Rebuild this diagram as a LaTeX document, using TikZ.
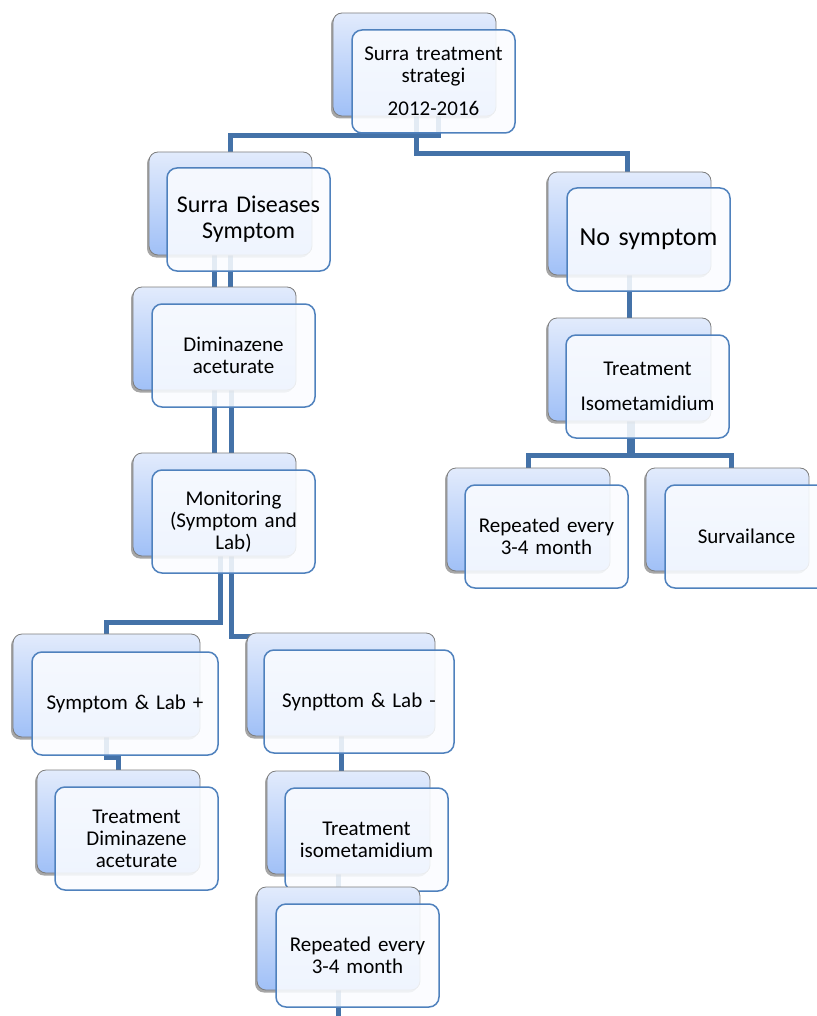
\documentclass[tikz,border=0pt]{standalone}
\usepackage{fontspec}
\setmainfont{Carlito}
\usetikzlibrary{shadows,calc,backgrounds}
\definecolor{conncol}{RGB}{68,114,168}
\definecolor{backtop}{RGB}{226,235,252}
\definecolor{backbot}{RGB}{160,192,247}
\definecolor{backline}{RGB}{125,125,125}
\definecolor{frontline}{RGB}{79,129,189}
\definecolor{frontfill}{RGB}{250,252,255}
\tikzset{
  conn/.style={draw=conncol, line width=5pt},
  backbox/.style={anchor=north west, rounded corners=9pt, draw=backline, line width=0.8pt,
    top color=backtop, bottom color=backbot, minimum height=103pt, inner sep=0pt, outer sep=0pt,
    drop shadow={shadow xshift=-2pt, shadow yshift=-2.5pt, opacity=0.35, fill=black}},
  frontbox/.style={anchor=north west, rounded corners=10pt, draw=frontline, line width=1.5pt,
    fill=frontfill, fill opacity=0.88, text opacity=1, minimum height=103pt, inner sep=0pt,
    outer sep=0pt, align=center, font=\fontsize{21}{22}\selectfont},
}
\begin{document}
\begin{tikzpicture}[x=1pt,y=-1pt]
\useasboundingbox (0,0) rectangle (816,1016);
% root
\node[backbox, minimum width=163pt] (root-b) at (333,13) {};
\node[frontbox, text width=163pt] (root) at (352,30) {Surra treatment\\strategi\\[11pt]2012-2016};
% Surra diseases symptom
\node[backbox, minimum width=163pt] (sds-b) at (149,152) {};
\node[frontbox, text width=163pt, font=\fontsize{24}{26}\selectfont] (sds) at (167,168) {Surra Diseases\\Symptom};
% No symptom
\node[backbox, minimum width=163pt] (nos-b) at (548,172) {};
\node[frontbox, text width=163pt, font=\fontsize{26}{28}\selectfont] (nos) at (567,188) {No symptom};
% Diminazene
\node[backbox, minimum width=163pt] (dim-b) at (133,287) {};
\node[frontbox, text width=163pt] (dim) at (152,304) {Diminazene\\aceturate};
% Treatment Isometamidium
\node[backbox, minimum width=163pt] (tiso-b) at (548,318) {};
\node[frontbox, text width=163pt] (tiso) at (566,335) {Treatment\\[13pt]Isometamidium};
% Monitoring
\node[backbox, minimum width=163pt] (mon-b) at (133,453) {};
\node[frontbox, text width=163pt] (mon) at (152,470) {Monitoring\\(Symptom and\\Lab)};
% Repeated (right)
\node[backbox, minimum width=163pt] (rep1-b) at (447,468) {};
\node[frontbox, text width=163pt] (rep1) at (465,485) {Repeated every\\3-4 month};
% Survailance
\node[backbox, minimum width=163pt] (surv-b) at (646,468) {};
\node[frontbox, text width=163pt] (surv) at (665,485) {Survailance};
% Symptom & Lab +
\node[backbox, minimum width=187pt] (slp-b) at (13,634) {};
\node[frontbox, text width=186pt] (slp) at (32,652) {Symptom \& Lab +};
% Synpttom & Lab -
\node[backbox, minimum width=188pt] (slm-b) at (247,633) {};
\node[frontbox, text width=190pt] (slm) at (264,650) {Synpttom \& Lab -};
% Treatment Diminazene aceturate
\node[backbox, minimum width=163pt] (tdim-b) at (37,770) {};
\node[frontbox, text width=163pt] (tdim) at (55,787) {Treatment\\Diminazene\\aceturate};
% Treatment isometamidium
\node[backbox, minimum width=163pt] (tiso2-b) at (267,771) {};
\node[frontbox, text width=163pt] (tiso2) at (285,788) {Treatment\\isometamidium};
% Repeated (bottom)
\node[backbox, minimum width=163pt] (rep2-b) at (257,887) {};
\node[frontbox, text width=163pt] (rep2) at (276,904) {Repeated every\\3-4 month};
\coordinate (stubend) at (340,1022);
\begin{scope}[on background layer]
\draw[conn] ($(root-b.south)+(23.5,0)$) -- ++(0,20) -| (sds-b.north);
\draw[conn] ($(root-b.south)+(2,0)$) -- ++(0,38) -| ($(nos-b.north)+(-2,0)$);
\draw[conn] (sds-b.south) -- (sds-b.south |- dim-b.north);
\draw[conn] (dim-b.north) -- (dim-b.north |- sds-b.south);
\draw[conn] (dim-b.south) -- (dim-b.south |- mon-b.north);
\draw[conn] ($(dim-b.south)+(16.5,0)$) coordinate (d1) -- (d1 |- mon-b.north);
\draw[conn] ($(mon-b.south)+(5.5,0)$) -- ++(0,66) -| (slp-b.north);
\draw[conn] ($(mon-b.south)+(16.5,0)$) |- ($(slm-b.north)+(0,3)$);
\draw[conn] (slp-b.south) -- ++(0,20) -| (tdim-b.north);
\draw[conn] (slm-b.south) -- (slm-b.south |- tiso2-b.north);
\draw[conn] (rep2-b.north) -- (rep2-b.north |- tiso2-b.south);
\draw[conn] (rep2-b.south) -- (rep2-b.south |- stubend);
\draw[conn] (nos-b.south) -- (tiso-b.north);
\draw[conn] (tiso-b.south) -- ++(0,34) -| (rep1-b.north);
\draw[conn] ($(tiso-b.south)+(3,0)$) -- ++(0,34) -| ($(surv-b.north)+(4,0)$);
\end{scope}
\end{tikzpicture}
\end{document}
